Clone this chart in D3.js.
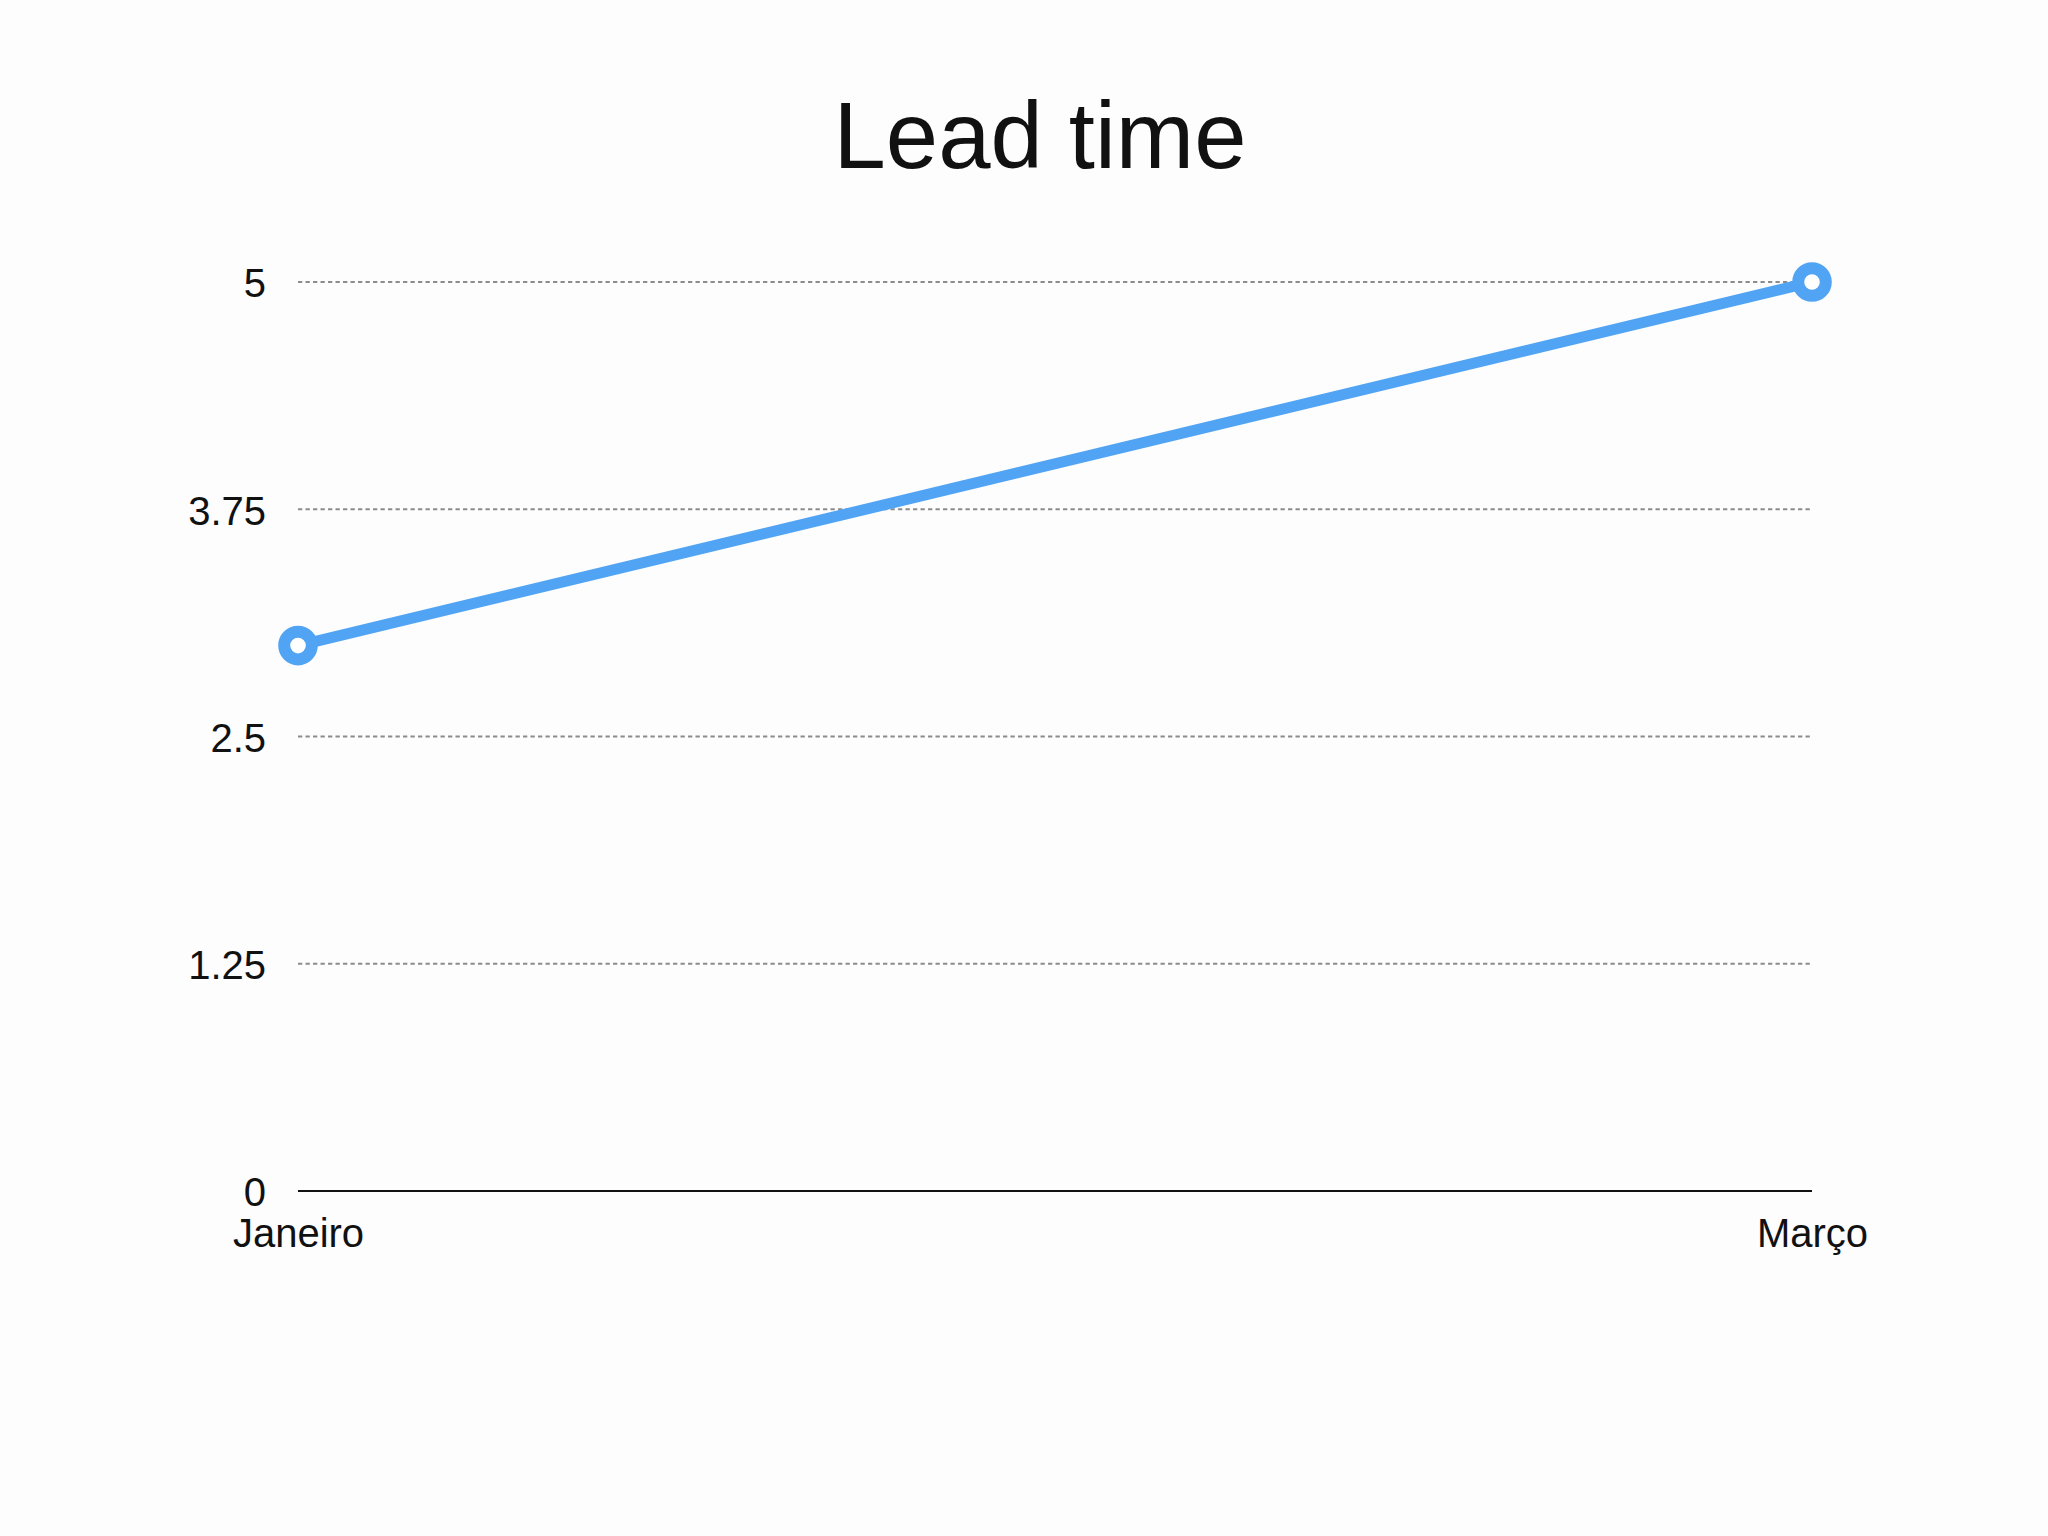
<!DOCTYPE html>
<html>
<head>
<meta charset="utf-8">
<script src="https://cdn.jsdelivr.net/npm/d3@7"></script>
<style>
  html, body { margin: 0; padding: 0; background: #fdfdfd; }
  svg { display: block; }
  text { font-family: "Liberation Sans", Arial, Helvetica, sans-serif; fill: #111; }
</style>
</head>
<body>
<script>
const title = "Lead time";
const categories = ["Janeiro", "Março"];
const values = [3, 5];
const yTicks = [0, 1.25, 2.5, 3.75, 5];
const yTickLabels = ["0", "1.25", "2.5", "3.75", "5"];

const W = 2048, H = 1536;
const svg = d3.select("body").append("svg").attr("width", W).attr("height", H);
svg.append("rect").attr("width", W).attr("height", H).attr("fill", "#fdfdfd");

const x = d3.scalePoint().domain(categories).range([298, 1812]);
const y = d3.scaleLinear().domain([0, 5]).range([1191, 282]);

svg.append("text")
  .attr("x", 1040).attr("y", 168)
  .attr("text-anchor", "middle")
  .style("font-size", "94px")
  .attr("fill", "#111")
  .text(title);

// gridlines (excluding 0)
const grid = svg.append("g");
grid.selectAll("line").data(yTicks.filter(d => d !== 0)).join("line")
  .attr("x1", x.range()[0]).attr("x2", x.range()[1])
  .attr("y1", d => y(d)).attr("y2", d => y(d))
  .attr("stroke", "#8c8c8c").attr("stroke-width", 1.8)
  .attr("stroke-dasharray", "4.3,3.2");

// y axis labels via d3 axis
const yAxis = d3.axisLeft(y).tickValues(yTicks)
  .tickFormat((d, i) => yTickLabels[i]).tickSize(0).tickPadding(0);
const yg = svg.append("g").attr("transform", "translate(266,2)").call(yAxis);
yg.select(".domain").remove();
yg.selectAll("text").style("font-size", "40px")
  .style("font-family", '"Liberation Sans", Arial, sans-serif').attr("fill", "#1a1a1a");

// baseline
svg.append("line")
  .attr("x1", x.range()[0]).attr("x2", x.range()[1])
  .attr("y1", y(0)).attr("y2", y(0))
  .attr("stroke", "#111").attr("stroke-width", 2);

// x axis labels
const xAxis = d3.axisBottom(x).tickSize(0).tickPadding(0);
const xg = svg.append("g").attr("transform", "translate(0,1219)").call(xAxis);
xg.select(".domain").remove();
xg.selectAll("text").style("font-size", "40px")
  .style("font-family", '"Liberation Sans", Arial, sans-serif').attr("fill", "#1a1a1a")
  .attr("dy", "0.71em");

const data = categories.map((c, i) => ({c, v: values[i]}));
const color = "#51a4f4";
svg.append("path").datum(data)
  .attr("fill", "none").attr("stroke", color).attr("stroke-width", 11)
  .attr("d", d3.line().x(d => x(d.c)).y(d => y(d.v)));

svg.selectAll("circle.pt").data(data).join("circle")
  .attr("class", "pt")
  .attr("cx", d => x(d.c)).attr("cy", d => y(d.v))
  .attr("r", 13.8)
  .attr("fill", "#ffffff").attr("stroke", color).attr("stroke-width", 12);
</script>
</body>
</html>
